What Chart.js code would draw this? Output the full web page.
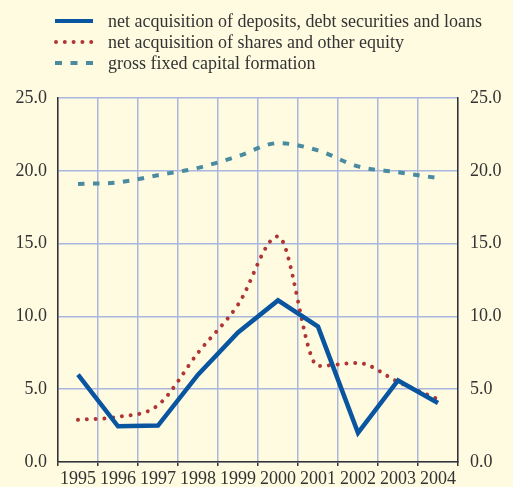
<!DOCTYPE html>
<html>
<head>
<meta charset="utf-8">
<script src="https://cdn.jsdelivr.net/npm/chart.js@4/dist/chart.umd.min.js"></script>
<style>
  html, body { margin: 0; padding: 0; background: #fefbe0; }
  #wrap { position: relative; width: 513px; height: 487px; background: #fefbe0; overflow: hidden; }
  #legend { position: absolute; left: 0; top: 0; width: 513px; font-family: 'Liberation Serif', 'Times New Roman', serif; font-size: 18px; color: #333; }
  .row { position: absolute; left: 0; height: 20px; }
  .row svg { position: absolute; left: 54px; top: 5px; }
  .row span { position: absolute; left: 108px; top: 0; white-space: nowrap; line-height: 20px; }
  canvas { position: absolute; left: 0; top: 0; }
</style>
</head>
<body>
<div id="wrap">
  <canvas id="c" width="513" height="487"></canvas>
  <div id="legend"></div>
</div>
<script>
const categories = ['1995','1996','1997','1998','1999','2000','2001','2002','2003','2004'];
const seriesNames = [
  'net acquisition of deposits, debt securities and loans',
  'net acquisition of shares and other equity',
  'gross fixed capital formation'
];
const deposits = [6.0, 2.45, 2.5, 6.0, 8.9, 11.1, 9.3, 2.0, 5.6, 4.05];
const shares   = [2.9, 3.1, 3.9, 7.5, 10.8, 15.5, 6.6, 6.8, 5.5, 4.3];
const gfcf     = [19.1, 19.2, 19.7, 20.2, 21.0, 21.9, 21.4, 20.3, 19.9, 19.5];
const yTicks   = [0, 5, 10, 15, 20, 25];

const BLUE = '#0a55a0', RED = '#b03535', TEAL = '#4a8ba0';
const GRID = '#a9b7e0', AXIS = '#333333', TXT = '#333333';
const FONT = "'Liberation Serif', 'Times New Roman', serif";

// HTML legend (real text)
const legendDefs = [
  {name: seriesNames[0], color: BLUE, type: 'solid', top: 11},
  {name: seriesNames[1], color: RED, type: 'dot', top: 32},
  {name: seriesNames[2], color: TEAL, type: 'dash', top: 53}
];
const lg = document.getElementById('legend');
legendDefs.forEach(d => {
  const row = document.createElement('div');
  row.className = 'row';
  row.style.top = d.top + 'px';
  let line;
  if (d.type === 'solid') line = `<line x1="1" y1="5" x2="39" y2="5" stroke="${d.color}" stroke-width="4"/>`;
  else if (d.type === 'dot') line = `<line x1="2" y1="5" x2="38" y2="5" stroke="${d.color}" stroke-width="4" stroke-linecap="round" stroke-dasharray="0 8.8"/>`;
  else line = `<line x1="1" y1="5" x2="40" y2="5" stroke="${d.color}" stroke-width="4" stroke-dasharray="7 8.5"/>`;
  row.innerHTML = `<svg width="42" height="10">${line}</svg><span>${d.name}</span>`;
  lg.appendChild(row);
});

Chart.defaults.font.family = FONT;
Chart.defaults.font.size = 18;
Chart.defaults.color = TXT;

new Chart(document.getElementById('c'), {
  type: 'line',
  data: {
    labels: categories,
    datasets: [
      {label: seriesNames[0], data: deposits, borderColor: BLUE, borderWidth: 4.5, tension: 0, pointRadius: 0, yAxisID: 'y', borderJoinStyle: 'miter'},
      {label: seriesNames[1], data: shares, borderColor: RED, borderWidth: 4, borderDash: [0.01, 8.8], borderCapStyle: 'round', cubicInterpolationMode: 'monotone', pointRadius: 0, yAxisID: 'y'},
      {label: seriesNames[2], data: gfcf, borderColor: TEAL, borderWidth: 4, borderDash: [6.5, 8.5], cubicInterpolationMode: 'monotone', pointRadius: 0, yAxisID: 'y'}
    ]
  },
  options: {
    responsive: false,
    animation: false,
    devicePixelRatio: 1,
    layout: {padding: {top: 98, left: 0, right: 0, bottom: 0}},
    plugins: {legend: {display: false}, tooltip: {enabled: false}},
    scales: {
      x: {
        offset: true,
        grid: {offset: true, color: GRID, lineWidth: 1.5, tickColor: AXIS, tickLength: 4, tickWidth: 1.5},
        border: {color: AXIS, width: 1.5},
        ticks: {padding: 2, maxRotation: 0, autoSkip: false, font: {size: 18}},
        afterFit: s => { s.height = 25; }
      },
      y: {
        position: 'left',
        min: 0, max: 25,
        afterBuildTicks: s => { s.ticks = yTicks.map(v => ({value: v})); },
        grid: {color: GRID, lineWidth: 1.5, drawTicks: false},
        border: {color: AXIS, width: 1.5},
        ticks: {padding: 11, callback: v => Number(v).toFixed(1)},
        afterFit: s => { s.width = 58; }
      },
      y2: {
        position: 'right',
        min: 0, max: 25,
        afterBuildTicks: s => { s.ticks = yTicks.map(v => ({value: v})); },
        grid: {drawOnChartArea: false, drawTicks: false},
        border: {color: AXIS, width: 1.5},
        ticks: {padding: 12, callback: v => Number(v).toFixed(1)},
        afterFit: s => { s.width = 55; }
      }
    }
  }
});
</script>
</body>
</html>
